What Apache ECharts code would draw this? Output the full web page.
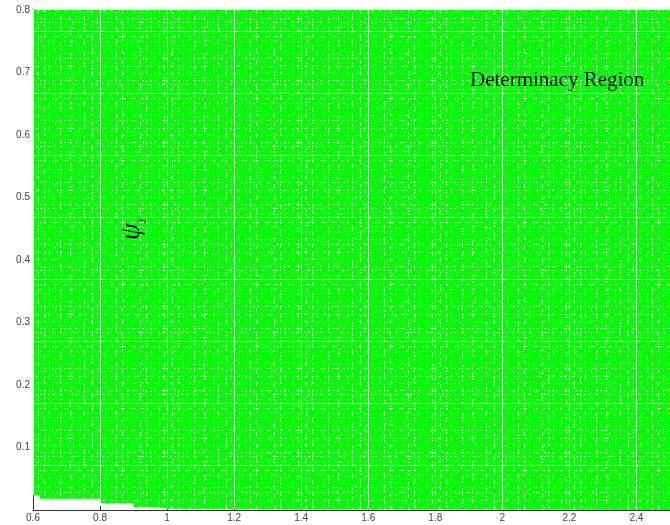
<!DOCTYPE html>
<html>
<head>
<meta charset="utf-8">
<script src="https://cdn.jsdelivr.net/npm/echarts@6/dist/echarts.min.js"></script>
<style>
  html, body { margin: 0; padding: 0; background: #fff; }
  #chart { width: 670px; height: 525px; }
</style>
</head>
<body>
<div id="chart"></div>
<script>
// lower boundary of the determinacy region (the region lies above it up to the top of the plot)
var boundaryX = [0.6, 0.62, 0.62, 0.8, 0.8, 0.9, 0.9, 0.97, 0.97, 1.0, 1.0, 2.5];
var boundaryY = [0.024, 0.024, 0.018, 0.018, 0.011, 0.011, 0.005, 0.005, 0.002, 0.002, 0, 0];
var xTicks = [0.6, 0.8, 1, 1.2, 1.4, 1.6, 1.8, 2, 2.2, 2.4];
var yTicks = [0.1, 0.2, 0.3, 0.4, 0.5, 0.6, 0.7, 0.8];

// green fill with the light grid texture of the plotted points
function makePattern() {
  var c = document.createElement('canvas');
  c.width = 67; c.height = 62;
  var g = c.getContext('2d');
  g.fillStyle = '#00ff00';
  g.fillRect(0, 0, 67, 62);
  g.fillStyle = 'rgba(255,255,255,0.75)';
  // horizontal dashed rows
  [4, 11, 18, 22, 27, 36, 41, 45, 53, 58].forEach(function (r, i) {
    for (var x = 0; x < 67; x += 4) {
      if ((x + i * 3) % 11 < 7) g.fillRect(x, r, 2, 1);
    }
  });
  // vertical dashed columns
  [3, 6, 12, 17, 25, 30, 38, 44, 49, 55, 60].forEach(function (col, i) {
    for (var y = 0; y < 62; y += 3) {
      if ((y + i * 5) % 13 < 8) g.fillRect(col, y, 1, 2);
    }
  });
  // a few solid white lines
  g.fillStyle = 'rgba(255,255,255,0.85)';
  g.fillRect(0, 31, 67, 1);
  g.fillRect(33, 0, 1, 62);
  return c;
}

var chart = echarts.init(document.getElementById('chart'));
var lbl = { color: '#444', fontSize: 10, fontFamily: 'Liberation Sans, Arial, sans-serif' };

chart.setOption({
  animation: false,
  grid: { left: 33, top: 10, right: 0, bottom: 15, containLabel: false },
  xAxis: {
    type: 'value',
    min: 0.6, max: 2.5, interval: 0.2,
    axisLine: { show: true, lineStyle: { color: '#333', width: 1 } },
    axisTick: { show: true, inside: true, length: 4, lineStyle: { color: '#333' } },
    axisLabel: Object.assign({ margin: 3, showMaxLabel: false,
      formatter: function (v) {
        var s = xTicks.find(function (t) { return Math.abs(t - v) < 1e-6; });
        return s === undefined ? '' : String(s);
      } }, lbl),
    splitLine: { show: false }
  },
  yAxis: {
    type: 'value',
    min: 0, max: 0.8, interval: 0.1,
    axisLine: { show: true, lineStyle: { color: '#333', width: 1 } },
    axisTick: { show: true, inside: true, length: 4, lineStyle: { color: '#333' } },
    axisLabel: Object.assign({ margin: 3, showMinLabel: false,
      formatter: function (v) {
        var s = yTicks.find(function (t) { return Math.abs(t - v) < 1e-6; });
        return s === undefined ? '' : String(s);
      } }, lbl),
    splitLine: { show: false }
  },
  series: [{
    type: 'line',
    data: boundaryX.map(function (x, i) { return [x, boundaryY[i]]; }),
    symbol: 'none',
    lineStyle: { width: 0 },
    areaStyle: { origin: 'end', opacity: 1, color: { image: makePattern(), repeat: 'repeat' } },
    silent: true
  }],
  graphic: [
    {
      type: 'text', left: 470, top: 70, z: 10,
      style: { text: 'Determinacy Region', fill: '#000',
        font: '21px "Liberation Serif", "Times New Roman", serif' }
    },
    {
      type: 'text', x: 118, y: 240, rotation: Math.PI / 2, z: 10,
      style: {
        text: '{a|ψ}{b|y}',
        rich: {
          a: { fill: '#000', font: 'italic 27px "Liberation Serif", serif' },
          b: { fill: '#000', font: 'italic 12px "Liberation Serif", serif', padding: [16, 0, 0, 1] }
        }
      }
    }
  ]
});
</script>
</body>
</html>
